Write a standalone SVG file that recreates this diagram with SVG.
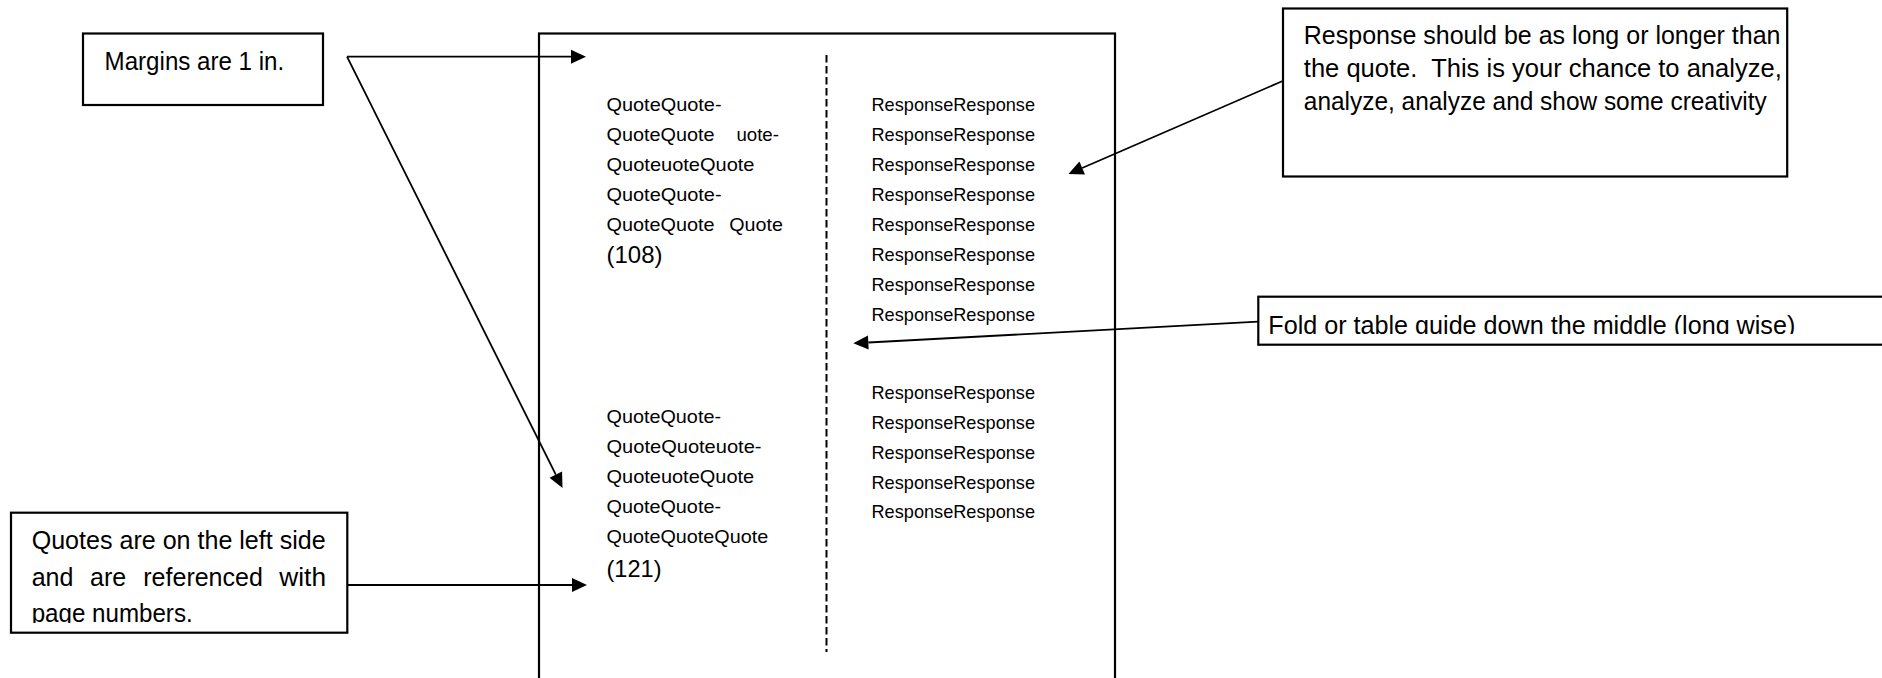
<svg xmlns="http://www.w3.org/2000/svg" width="1882" height="678" viewBox="0 0 1882 678">
<style>
  text { font-family: "Liberation Sans", Arial, sans-serif; fill: #000; }
  .box { fill: #fff; stroke: #000; stroke-width: 2.2; }
  .bt { font-size: 25px; }
  .qt { font-size: 18.5px; }
  .num { font-size: 24px; }
  .conn { fill: none; stroke: #000; stroke-width: 1.8; marker-end: url(#ah); }
</style>
<defs>
  <marker id="ah" markerUnits="userSpaceOnUse" markerWidth="16" markerHeight="14" refX="0" refY="7" orient="auto" overflow="visible">
    <path d="M0,0 L15,7 L0,14 z" fill="#000"/>
  </marker>
  <clipPath id="clipQuotes"><rect x="0" y="500" width="360" height="123"/></clipPath>
  <clipPath id="clipFold"><rect x="1250" y="290" width="640" height="44"/></clipPath>
</defs>
<rect x="0" y="0" width="1882" height="678" fill="#fff"/>

<g id="page">
  <rect x="539" y="33.5" width="576" height="660" fill="none" stroke="#000" stroke-width="2.2"/>
  <line x1="826.5" y1="55" x2="826.5" y2="652" stroke="#000" stroke-width="2" stroke-dasharray="7.5 3.5"/>
  <g id="quotes-1" class="qt">
    <text class="qt" x="606.5" y="110.7" textLength="115" lengthAdjust="spacingAndGlyphs">QuoteQuote-</text>
    <text class="qt" x="606.5" y="140.7" textLength="108" lengthAdjust="spacingAndGlyphs">QuoteQuote</text>
    <text class="qt" x="736.4" y="140.7" textLength="42.5" lengthAdjust="spacingAndGlyphs">uote-</text>
    <text class="qt" x="606.5" y="170.7" textLength="148" lengthAdjust="spacingAndGlyphs">QuoteuoteQuote</text>
    <text class="qt" x="606.5" y="200.7" textLength="115" lengthAdjust="spacingAndGlyphs">QuoteQuote-</text>
    <text class="qt" x="606.5" y="230.5" textLength="108" lengthAdjust="spacingAndGlyphs">QuoteQuote</text>
    <text class="qt" x="729.3" y="230.5" textLength="53.6" lengthAdjust="spacingAndGlyphs">Quote</text>
    <text class="num" x="606.5" y="263.3" textLength="56" lengthAdjust="spacingAndGlyphs">(108)</text>
  </g>
  <g id="quotes-2">
    <text class="qt" x="606.5" y="423.3" textLength="114.5" lengthAdjust="spacingAndGlyphs">QuoteQuote-</text>
    <text class="qt" x="606.5" y="453.3" textLength="155" lengthAdjust="spacingAndGlyphs">QuoteQuoteuote-</text>
    <text class="qt" x="606.5" y="483.3" textLength="147.7" lengthAdjust="spacingAndGlyphs">QuoteuoteQuote</text>
    <text class="qt" x="606.5" y="513" textLength="114.5" lengthAdjust="spacingAndGlyphs">QuoteQuote-</text>
    <text class="qt" x="606.5" y="543.3" textLength="161.7" lengthAdjust="spacingAndGlyphs">QuoteQuoteQuote</text>
    <text class="num" x="606.5" y="576.7" textLength="55" lengthAdjust="spacingAndGlyphs">(121)</text>
  </g>
  <g id="responses-1">
    <text class="qt" x="871.5" y="110.7" textLength="163.5" lengthAdjust="spacingAndGlyphs">ResponseResponse</text>
    <text class="qt" x="871.5" y="140.7" textLength="163.5" lengthAdjust="spacingAndGlyphs">ResponseResponse</text>
    <text class="qt" x="871.5" y="170.7" textLength="163.5" lengthAdjust="spacingAndGlyphs">ResponseResponse</text>
    <text class="qt" x="871.5" y="200.7" textLength="163.5" lengthAdjust="spacingAndGlyphs">ResponseResponse</text>
    <text class="qt" x="871.5" y="230.7" textLength="163.5" lengthAdjust="spacingAndGlyphs">ResponseResponse</text>
    <text class="qt" x="871.5" y="260.7" textLength="163.5" lengthAdjust="spacingAndGlyphs">ResponseResponse</text>
    <text class="qt" x="871.5" y="290.7" textLength="163.5" lengthAdjust="spacingAndGlyphs">ResponseResponse</text>
    <text class="qt" x="871.5" y="320.7" textLength="163.5" lengthAdjust="spacingAndGlyphs">ResponseResponse</text>
  </g>
  <g id="responses-2">
    <text class="qt" x="871.5" y="399.3" textLength="163.5" lengthAdjust="spacingAndGlyphs">ResponseResponse</text>
    <text class="qt" x="871.5" y="429.1" textLength="163.5" lengthAdjust="spacingAndGlyphs">ResponseResponse</text>
    <text class="qt" x="871.5" y="458.8" textLength="163.5" lengthAdjust="spacingAndGlyphs">ResponseResponse</text>
    <text class="qt" x="871.5" y="488.6" textLength="163.5" lengthAdjust="spacingAndGlyphs">ResponseResponse</text>
    <text class="qt" x="871.5" y="518.3" textLength="163.5" lengthAdjust="spacingAndGlyphs">ResponseResponse</text>
  </g>
</g>

<g id="margins-box">
  <rect class="box" x="83" y="33.5" width="240" height="71.5"/>
  <text class="bt" x="104.6" y="70" textLength="179.6" lengthAdjust="spacingAndGlyphs">Margins are 1 in.</text>
</g>

<g id="quotes-box">
  <rect class="box" x="11" y="512.7" width="336.3" height="120"/>
  <g clip-path="url(#clipQuotes)">
    <text class="bt" x="31.7" y="549.3" textLength="294" lengthAdjust="spacingAndGlyphs">Quotes are on the left side</text>
    <text class="bt" x="31.7" y="586">and</text>
    <text class="bt" x="90" y="586">are</text>
    <text class="bt" x="143.3" y="586">referenced</text>
    <text class="bt" x="279.3" y="586" textLength="46.7" lengthAdjust="spacingAndGlyphs">with</text>
    <text class="bt" x="31.7" y="622" textLength="161" lengthAdjust="spacingAndGlyphs">page numbers.</text>
  </g>
</g>

<g id="response-box">
  <rect class="box" x="1283" y="8.5" width="504.2" height="168"/>
  <text class="bt" x="1303.8" y="44" textLength="476.7" lengthAdjust="spacingAndGlyphs">Response should be as long or longer than</text>
  <text class="bt" x="1303.8" y="77" textLength="478" lengthAdjust="spacingAndGlyphs" xml:space="preserve">the quote.  This is your chance to analyze,</text>
  <text class="bt" x="1303.8" y="110" textLength="463" lengthAdjust="spacingAndGlyphs">analyze, analyze and show some creativity</text>
</g>

<g id="fold-box">
  <rect class="box" x="1258.3" y="296.7" width="640" height="48"/>
  <g clip-path="url(#clipFold)">
    <text class="bt" x="1268.3" y="333.5" textLength="527" lengthAdjust="spacingAndGlyphs">Fold or table guide down the middle (long wise)</text>
  </g>
</g>

<g id="connectors">
  <path class="conn" d="M347,56.7 L571,56.7"/>
  <path class="conn" d="M347,56.7 L555.8,474.6"/>
  <path class="conn" d="M347.3,585 L572,585"/>
  <path class="conn" d="M1282.7,81 L1082.2,168"/>
  <path class="conn" d="M1258.3,321.7 L868.3,342.5"/>
</g>
</svg>
